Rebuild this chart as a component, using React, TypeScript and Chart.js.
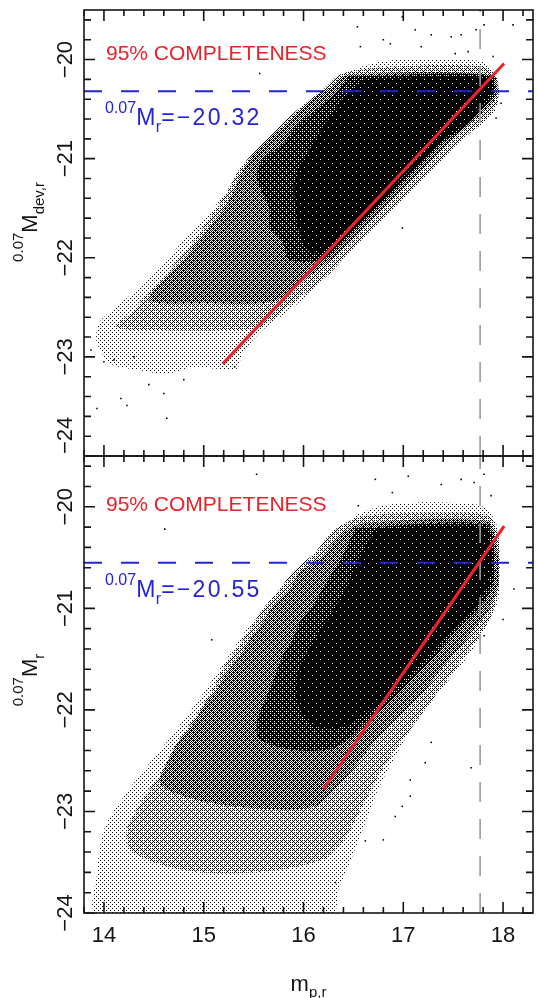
import React, { useEffect, useRef } from 'react';
import { Chart, registerables } from 'chart.js';

Chart.register(...registerables);

// ---------- axes ----------
const X_MIN = 13.8;
const X_MAX = 18.3;
const Y_BRIGHT = -24;
const Y_FAINT = -19.5;
const X_TICK_LABELS = [14, 15, 16, 17, 18];
const Y_TICK_LABELS = [-20, -21, -22, -23, -24];

// ---------- reference lines ----------
const FLUX_LIMIT = 17.77;
const TOP_MAG_LIMIT = -20.32;
const BOT_MAG_LIMIT = -20.55;
const TOP_COMPLETENESS = [[15.19, -23.07], [18.01, -20.04]];
const BOT_COMPLETENESS = [[16.2, -22.78], [18.01, -20.19]];

// ---------- point-cloud density contours (top: M_dev,r) ----------
const TOP_SPARSE = [
  [16.26, -20.32], [16.42, -20.16], [16.62, -20.06], [16.95, -20.0], [17.28, -20.0], [17.62, -20.0],
  [17.83, -20.04], [17.93, -20.17], [17.95, -20.37], [17.91, -20.54], [17.78, -20.66], [17.58, -20.81],
  [17.42, -20.98], [17.22, -21.18], [17.05, -21.35], [16.89, -21.52], [16.69, -21.69], [16.45, -21.92],
  [16.26, -22.16], [16.06, -22.36], [15.82, -22.56], [15.59, -22.73], [15.39, -22.96], [15.33, -23.12],
  [15.13, -23.12], [14.9, -23.1], [14.63, -23.17], [14.33, -23.13], [14.07, -23.07], [13.93, -22.86],
  [13.95, -22.66], [14.13, -22.49], [14.37, -22.29], [14.6, -22.06], [14.8, -21.82], [15.0, -21.62],
  [15.19, -21.38], [15.39, -21.11], [15.56, -20.91], [15.76, -20.71], [15.96, -20.54], [16.12, -20.41],
];
const TOP_LIGHT = [
  [16.19, -20.31], [16.39, -20.14], [16.95, -20.07], [17.78, -20.07], [17.93, -20.17], [17.95, -20.41],
  [17.86, -20.56], [17.68, -20.73], [17.48, -20.91], [17.32, -21.08], [17.15, -21.25], [16.99, -21.42],
  [16.82, -21.59], [16.65, -21.75], [16.45, -21.96], [16.26, -22.16], [16.02, -22.36], [15.79, -22.53],
  [15.56, -22.7], [15.13, -22.73], [14.63, -22.73], [14.13, -22.7], [14.3, -22.53], [14.46, -22.33],
  [14.66, -22.12], [14.8, -21.96], [14.93, -21.79], [15.09, -21.55], [15.23, -21.35], [15.33, -21.15],
  [15.46, -20.98], [15.63, -20.81], [15.82, -20.61], [16.02, -20.44],
];
const TOP_MEDIUM = [
  [16.26, -20.29], [16.42, -20.16], [17.9, -20.16], [17.93, -20.37], [17.8, -20.53], [17.62, -20.69],
  [17.42, -20.88], [17.25, -21.05], [17.08, -21.22], [16.92, -21.38], [16.75, -21.55], [16.59, -21.72],
  [16.42, -21.89], [16.22, -22.06], [16.02, -22.22], [15.82, -22.39], [15.59, -22.46], [15.06, -22.46],
  [14.46, -22.43], [14.63, -22.19], [14.8, -22.02], [14.93, -21.85], [15.06, -21.69], [15.19, -21.52],
  [15.29, -21.35], [15.36, -21.18], [15.46, -21.01], [15.59, -20.85], [15.79, -20.68], [15.96, -20.51],
  [16.12, -20.37],
];
const TOP_DENSE = [
  [16.45, -20.17], [17.88, -20.16], [17.91, -20.34], [17.78, -20.51], [17.62, -20.68], [17.38, -20.85],
  [17.22, -21.01], [17.05, -21.18], [16.89, -21.35], [16.72, -21.52], [16.55, -21.69], [16.39, -21.85],
  [16.19, -22.02], [15.86, -22.02], [15.79, -21.85], [15.66, -21.69], [15.66, -21.52], [15.59, -21.35],
  [15.53, -21.18], [15.59, -21.01], [15.79, -20.85], [15.92, -20.68], [16.12, -20.51], [16.32, -20.34],
];
const TOP_CORE = [
  [16.62, -20.19], [17.86, -20.19], [17.88, -20.34], [17.75, -20.51], [17.58, -20.68], [17.35, -20.85],
  [17.18, -21.01], [17.0, -21.18], [16.84, -21.35], [16.67, -21.52], [16.51, -21.69], [16.32, -21.85],
  [16.12, -21.96], [15.99, -21.85], [15.92, -21.52], [15.92, -21.18], [16.06, -20.91], [16.22, -20.64],
  [16.42, -20.37],
];
const TOP_OUTLIERS = [
  [15.56, -20.14], [16.54, -19.67], [16.57, -19.87], [16.8, -19.8], [16.87, -19.84], [16.99, -19.57],
  [17.12, -19.7], [17.28, -19.75], [17.48, -19.77], [17.58, -19.75], [17.65, -19.92], [17.73, -19.7],
  [17.81, -19.65], [18.1, -19.65], [17.93, -20.59], [17.98, -20.44], [16.99, -21.7], [13.93, -23.52],
  [14.17, -23.42], [14.23, -23.49], [14.63, -23.62], [14.8, -23.23], [14.6, -23.37], [14.45, -23.28],
  [13.87, -22.93], [14.0, -23.05], [15.31, -23.1], [14.1, -23.03], [14.3, -23.0], [17.9, -19.97],
  [17.18, -19.87], [17.52, -19.94],
];

// ---------- point-cloud density contours (bottom: M_r) ----------
const BOT_SPARSE = [
  [16.12, -20.49], [16.32, -20.26], [16.52, -20.09], [16.79, -19.99], [17.12, -19.96], [17.45, -19.96],
  [17.78, -19.99], [17.93, -20.16], [17.96, -20.49], [17.96, -20.88], [17.85, -21.14], [17.65, -21.47],
  [17.38, -21.8], [17.12, -22.13], [16.92, -22.46], [16.75, -22.78], [16.62, -23.11], [16.49, -23.44],
  [16.35, -23.77], [16.29, -24.0], [13.93, -24.0], [13.93, -23.61], [14.0, -23.18], [14.2, -22.85],
  [14.46, -22.52], [14.73, -22.19], [15.0, -21.83], [15.23, -21.5], [15.46, -21.17], [15.73, -20.88],
  [15.92, -20.65],
];
const BOT_LIGHT = [
  [16.12, -20.45], [16.32, -20.22], [16.62, -20.09], [17.45, -20.06], [17.85, -20.09], [17.95, -20.29],
  [17.96, -20.75], [17.88, -21.08], [17.71, -21.34], [17.52, -21.6], [17.32, -21.86], [17.12, -22.13],
  [16.92, -22.39], [16.75, -22.65], [16.59, -22.95], [16.45, -23.21], [16.26, -23.44], [15.79, -23.57],
  [15.13, -23.61], [14.63, -23.54], [14.27, -23.38], [14.23, -23.18], [14.33, -22.98], [14.46, -22.78],
  [14.6, -22.59], [14.7, -22.39], [14.83, -22.19], [14.96, -22.0], [15.09, -21.8], [15.19, -21.6],
  [15.33, -21.4], [15.46, -21.21], [15.59, -21.01], [15.73, -20.85], [15.89, -20.65],
];
const BOT_MEDIUM = [
  [16.19, -20.49], [16.39, -20.26], [16.62, -20.16], [17.83, -20.14], [17.93, -20.35], [17.95, -20.75],
  [17.86, -21.01], [17.71, -21.21], [17.55, -21.4], [17.38, -21.6], [17.22, -21.8], [17.02, -22.0],
  [16.82, -22.19], [16.65, -22.39], [16.49, -22.59], [16.32, -22.78], [16.12, -22.95], [15.79, -22.98],
  [15.29, -22.95], [14.8, -22.85], [14.56, -22.72], [14.66, -22.46], [14.76, -22.29], [14.9, -22.13],
  [15.0, -21.96], [15.13, -21.8], [15.23, -21.63], [15.36, -21.47], [15.46, -21.31], [15.59, -21.14],
  [15.69, -20.98], [15.86, -20.81], [15.96, -20.65],
];
const BOT_DENSE = [
  [16.52, -20.21], [17.83, -20.17], [17.91, -20.42], [17.9, -20.75], [17.78, -20.98], [17.62, -21.14],
  [17.45, -21.31], [17.32, -21.47], [17.15, -21.63], [16.99, -21.8], [16.82, -21.96], [16.62, -22.13],
  [16.45, -22.29], [16.26, -22.39], [15.86, -22.39], [15.56, -22.29], [15.53, -22.13], [15.59, -21.96],
  [15.66, -21.8], [15.73, -21.63], [15.79, -21.47], [15.89, -21.31], [15.96, -21.14], [16.09, -20.98],
  [16.19, -20.81], [16.29, -20.65], [16.39, -20.49],
];
const BOT_CORE = [
  [16.72, -20.22], [17.81, -20.21], [17.88, -20.45], [17.86, -20.75], [17.75, -20.94], [17.55, -21.14],
  [17.35, -21.37], [17.15, -21.57], [16.95, -21.77], [16.75, -21.93], [16.55, -22.09], [16.32, -22.19],
  [16.06, -22.13], [15.92, -21.86], [15.96, -21.6], [16.09, -21.34], [16.26, -21.08], [16.42, -20.81],
  [16.55, -20.52],
];
const BOT_OUTLIERS = [
  [15.53, -19.68], [16.72, -19.73], [16.89, -19.86], [17.05, -19.7], [17.38, -19.78], [17.58, -19.73],
  [17.71, -19.76], [17.81, -19.68], [17.88, -19.89], [16.55, -19.99], [14.61, -20.22], [15.08, -21.31],
  [18.0, -21.11], [17.68, -22.57], [17.22, -22.52], [17.07, -22.69], [17.07, -22.85], [16.92, -23.05],
  [16.62, -23.29], [16.8, -23.28], [16.32, -23.7], [18.11, -20.81], [17.81, -21.27], [16.12, -19.93],
  [17.28, -22.32], [16.99, -22.95],
];

// ---------- style ----------
const FONT = '"Liberation Sans", Arial, Helvetica, sans-serif';
const RED = '#e8232b';
const BLUE = '#2323d8';
const INK = '#141414';
const BAYER = [
  [0, 32, 8, 40, 2, 34, 10, 42],
  [48, 16, 56, 24, 50, 18, 58, 26],
  [12, 44, 4, 36, 14, 46, 6, 38],
  [60, 28, 52, 20, 62, 30, 54, 22],
  [3, 35, 11, 43, 1, 33, 9, 41],
  [51, 19, 59, 27, 49, 17, 57, 25],
  [15, 47, 7, 39, 13, 45, 5, 37],
  [63, 31, 55, 23, 61, 29, 53, 21],
];
const LEVELS = [8, 22, 38, 54, 62];

function makePattern(ctx: CanvasRenderingContext2D, level: number) {
  const c = document.createElement('canvas');
  c.width = 8;
  c.height = 8;
  const g = c.getContext('2d')!;
  g.fillStyle = '#000';
  for (let r = 0; r < 8; r++) for (let k = 0; k < 8; k++) if (BAYER[r][k] < level) g.fillRect(k, r, 1, 1);
  return ctx.createPattern(c, 'repeat')!;
}

const pts = (arr: number[][]) => arr.map(([x, y]) => ({ x, y }));
const closed = (arr: number[][]) => pts(arr.concat([arr[0]]));

type Part = { t: string; size: number; dy: number; ls?: number };

function drawRich(ctx: CanvasRenderingContext2D, parts: Part[], x: number, y: number, align: 'left' | 'center', rot: number, color: string) {
  ctx.save();
  ctx.translate(x, y);
  if (rot) ctx.rotate(rot);
  ctx.fillStyle = color;
  ctx.textBaseline = 'alphabetic';
  ctx.textAlign = 'left';
  const widths = parts.map((p) => {
    ctx.font = `${p.size}px ${FONT}`;
    (ctx as any).letterSpacing = `${p.ls || 0}px`;
    return ctx.measureText(p.t).width;
  });
  const total = widths.reduce((a, b) => a + b, 0);
  let cx = align === 'center' ? -total / 2 : 0;
  parts.forEach((p, i) => {
    ctx.font = `${p.size}px ${FONT}`;
    (ctx as any).letterSpacing = `${p.ls || 0}px`;
    ctx.fillText(p.t, cx, p.dy);
    cx += widths[i];
  });
  ctx.restore();
}

type PanelCfg = {
  isTop: boolean;
  magLimit: number;
  titleParts: Part[];
  titleCenterY: number;
};

function panelPlugin(cfg: PanelCfg) {
  return {
    id: 'panelAxes',
    afterDatasetsDraw(chart: any) {
      const { ctx, chartArea: a, scales } = chart;
      const x = scales.x;
      const y = scales.y;
      ctx.save();
      ctx.strokeStyle = INK;
      ctx.lineWidth = 1.6;
      ctx.strokeRect(a.left, a.top, a.right - a.left, a.bottom - a.top);
      ctx.beginPath();
      for (let k = Math.ceil(X_MIN * 5); k <= Math.floor(X_MAX * 5); k++) {
        const px = x.getPixelForValue(k / 5);
        const len = k % 5 === 0 ? 11 : 6;
        ctx.moveTo(px, a.bottom);
        ctx.lineTo(px, a.bottom - len);
        ctx.moveTo(px, a.top);
        ctx.lineTo(px, a.top + len);
      }
      for (let k = Math.ceil(Y_BRIGHT * 5); k <= Math.floor(Y_FAINT * 5); k++) {
        const py = y.getPixelForValue(k / 5);
        const len = k % 5 === 0 ? 11 : 7;
        ctx.moveTo(a.left, py);
        ctx.lineTo(a.left + len, py);
        ctx.moveTo(a.right, py);
        ctx.lineTo(a.right - len, py);
      }
      ctx.stroke();

      // y tick labels (rotated)
      ctx.fillStyle = INK;
      ctx.font = `22px ${FONT}`;
      for (const v of Y_TICK_LABELS) {
        const py = y.getPixelForValue(v);
        ctx.save();
        ctx.translate(72, py);
        ctx.rotate(-Math.PI / 2);
        ctx.textBaseline = 'alphabetic';
        if (cfg.isTop && v === Y_BRIGHT) {
          ctx.textAlign = 'left';
          ctx.fillText('\u2212' + Math.abs(v), 2, 0);
        } else {
          ctx.textAlign = 'center';
          ctx.fillText('\u2212' + Math.abs(v), 0, 0);
        }
        ctx.restore();
      }
      // y axis title
      drawRich(ctx, cfg.titleParts, 37, cfg.titleCenterY, 'center', -Math.PI / 2, INK);

      // x tick labels + title (bottom panel only)
      if (!cfg.isTop) {
        ctx.font = `22px ${FONT}`;
        ctx.textAlign = 'center';
        ctx.textBaseline = 'alphabetic';
        for (const v of X_TICK_LABELS) {
          ctx.fillText(String(v), x.getPixelForValue(v), a.bottom + 29);
        }
        drawRich(ctx, [
          { t: 'm', size: 22, dy: 0 },
          { t: 'p,r', size: 15, dy: 6 },
        ], (a.left + a.right) / 2, a.bottom + 78, 'center', 0, INK);
      }

      // annotations
      ctx.font = `21px ${FONT}`;
      ctx.fillStyle = RED;
      ctx.textAlign = 'left';
      ctx.fillText('95% COMPLETENESS', a.left + 22, a.top + (cfg.isTop ? 50 : 55));
      const my = y.getPixelForValue(cfg.magLimit) + 34;
      drawRich(ctx, [
        { t: '0.07', size: 16, dy: -12 },
        { t: 'M', size: 23, dy: 0, ls: 0.5 },
        { t: 'r', size: 16, dy: 7 },
        { t: '=\u2212' + Math.abs(cfg.magLimit).toFixed(2), size: 23, dy: 0, ls: 2.3 },
      ], a.left + 21, my, 'left', 0, BLUE);
      ctx.restore();
    },
  };
}

function buildDatasets(ctx: CanvasRenderingContext2D, polys: number[][][], outliers: number[][], red: number[][], mag: number) {
  const fills = polys.map((p, i) => ({
    data: closed(p),
    showLine: true,
    fill: 'shape',
    backgroundColor: makePattern(ctx, LEVELS[i]),
    borderColor: 'rgba(0,0,0,0)',
    borderWidth: 0,
    pointRadius: 0,
    tension: 0.3,
    order: 20 - i,
  }));
  return [
    ...fills,
    {
      data: pts(outliers),
      pointRadius: 1.1,
      pointStyle: 'rect',
      backgroundColor: '#000',
      borderWidth: 0,
      order: 5,
    },
    {
      data: [{ x: FLUX_LIMIT, y: Y_BRIGHT }, { x: FLUX_LIMIT, y: Y_FAINT }],
      showLine: true,
      borderColor: '#9a9a9a',
      borderWidth: 1.6,
      borderDash: [20, 17],
      pointRadius: 0,
      order: 3,
    },
    {
      data: [{ x: X_MIN, y: mag }, { x: X_MAX, y: mag }],
      showLine: true,
      borderColor: BLUE,
      borderWidth: 2,
      borderDash: [18, 19],
      pointRadius: 0,
      order: 2,
    },
    {
      data: pts(red),
      showLine: true,
      borderColor: RED,
      borderWidth: 3.2,
      pointRadius: 0,
      order: 1,
    },
  ];
}

function makeChart(canvas: HTMLCanvasElement, cfg: PanelCfg, polys: number[][][], outliers: number[][], red: number[][], padding: any) {
  const ctx = canvas.getContext('2d')!;
  return new Chart(canvas, {
    type: 'scatter',
    data: { datasets: buildDatasets(ctx, polys, outliers, red, cfg.magLimit) as any },
    options: {
      animation: false,
      responsive: false,
      devicePixelRatio: 1,
      events: [],
      layout: { padding },
      plugins: { legend: { display: false }, tooltip: { enabled: false } },
      scales: {
        x: { type: 'linear', min: X_MIN, max: X_MAX, display: false },
        y: { type: 'linear', min: Y_BRIGHT, max: Y_FAINT, display: false },
      },
    } as any,
    plugins: [panelPlugin(cfg) as any],
  });
}

export default function App() {
  const topRef = useRef<HTMLCanvasElement>(null);
  const botRef = useRef<HTMLCanvasElement>(null);

  useEffect(() => {
    const top = makeChart(
      topRef.current!,
      {
        isTop: true,
        magLimit: TOP_MAG_LIMIT,
        titleParts: [
          { t: '0.07', size: 15, dy: -14 },
          { t: 'M', size: 22, dy: 0 },
          { t: 'dev,r', size: 15, dy: 7 },
        ],
        titleCenterY: 222,
      },
      [TOP_SPARSE, TOP_LIGHT, TOP_MEDIUM, TOP_DENSE, TOP_CORE],
      TOP_OUTLIERS,
      TOP_COMPLETENESS,
      { left: 84, right: 1, top: 10, bottom: 4 },
    );
    const bot = makeChart(
      botRef.current!,
      {
        isTop: false,
        magLimit: BOT_MAG_LIMIT,
        titleParts: [
          { t: '0.07', size: 15, dy: -14 },
          { t: 'M', size: 22, dy: 0 },
          { t: 'r', size: 15, dy: 7 },
        ],
        titleCenterY: 680 - 452,
      },
      [BOT_SPARSE, BOT_LIGHT, BOT_MEDIUM, BOT_DENSE, BOT_CORE],
      BOT_OUTLIERS,
      BOT_COMPLETENESS,
      { left: 84, right: 1, top: 4, bottom: 85 },
    );
    return () => {
      top.destroy();
      bot.destroy();
    };
  }, []);

  return (
    <div style={{ position: 'absolute', left: 0, top: 0, width: 537, height: 998, background: '#fff', overflow: 'hidden' }}>
      <canvas ref={topRef} width={537} height={460} style={{ position: 'absolute', left: 0, top: 0, width: 537, height: 460 }} />
      <canvas ref={botRef} width={537} height={546} style={{ position: 'absolute', left: 0, top: 452, width: 537, height: 546 }} />
    </div>
  );
}
